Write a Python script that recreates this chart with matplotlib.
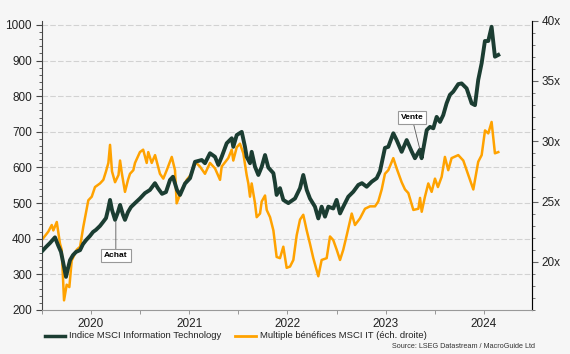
import matplotlib
matplotlib.use("Agg")
from matplotlib import pyplot as plt
from matplotlib.ticker import MultipleLocator, FixedLocator, FuncFormatter

plt.rcParams['font.family'] = ['Liberation Sans', 'DejaVu Sans']

# indice MSCI IT (fractional year, level)
idx_t = [2020.000, 2020.044, 2020.084, 2020.135, 2020.166, 2020.196, 2020.217, 2020.247, 2020.268, 2020.288,
         2020.318, 2020.349, 2020.390, 2020.420, 2020.451, 2020.491, 2020.522, 2020.552, 2020.593, 2020.624,
         2020.654, 2020.674, 2020.695, 2020.715, 2020.746, 2020.776, 2020.797, 2020.827, 2020.847, 2020.878,
         2020.908, 2020.949, 2020.999, 2021.050, 2021.101, 2021.152, 2021.182, 2021.224, 2021.264, 2021.305,
         2021.335, 2021.376, 2021.407, 2021.458, 2021.509, 2021.560, 2021.628, 2021.661, 2021.712, 2021.763,
         2021.797, 2021.831, 2021.882, 2021.933, 2021.949, 2021.984, 2022.035, 2022.068, 2022.085, 2022.119,
         2022.136, 2022.170, 2022.204, 2022.238, 2022.272, 2022.305, 2022.357, 2022.374, 2022.390, 2022.424,
         2022.458, 2022.509, 2022.577, 2022.628, 2022.661, 2022.696, 2022.729, 2022.780, 2022.814, 2022.848,
         2022.882, 2022.916, 2022.966, 2023.000, 2023.035, 2023.068, 2023.119, 2023.170, 2023.221, 2023.258,
         2023.306, 2023.357, 2023.408, 2023.442, 2023.492, 2023.526, 2023.577, 2023.611, 2023.662, 2023.713,
         2023.764, 2023.797, 2023.848, 2023.865, 2023.917, 2023.950, 2023.984, 2024.018, 2024.052, 2024.085,
         2024.119, 2024.153, 2024.187, 2024.238, 2024.272, 2024.323, 2024.374, 2024.408, 2024.441, 2024.476,
         2024.509, 2024.543, 2024.577, 2024.611, 2024.645]
idx_v = [364, 377, 388, 404, 382, 363, 335, 293, 318, 340,
         354, 363, 368, 385, 396, 408, 419, 425, 436, 447,
         458, 481, 509, 481, 453, 475, 495, 467, 453, 475,
         489, 500, 513, 528, 537, 556, 542, 526, 531, 565,
         574, 537, 523, 555, 570, 616, 621, 612, 640, 630,
         607, 630, 668, 682, 658, 691, 700, 658, 630, 612,
         644, 602, 579, 602, 635, 600, 584, 556, 523, 542,
         509, 500, 513, 542, 579, 537, 513, 490, 457, 490,
         462, 490, 485, 509, 471, 490, 518, 532, 551, 556,
         546, 560, 570, 590, 655, 658, 696, 677, 644, 677,
         645, 626, 650, 626, 705, 714, 710, 742, 728, 747,
         780, 804, 813, 834, 836, 822, 780, 775, 846, 893,
         955, 955, 995, 911, 916]

# multiple de bénéfices (fractional year, x)
pe_t = [2020.000, 2020.067, 2020.102, 2020.118, 2020.153, 2020.186, 2020.203, 2020.227, 2020.254, 2020.281,
        2020.305, 2020.356, 2020.390, 2020.423, 2020.474, 2020.509, 2020.542, 2020.593, 2020.627, 2020.654,
        2020.678, 2020.695, 2020.715, 2020.746, 2020.781, 2020.797, 2020.814, 2020.847, 2020.878, 2020.898,
        2020.932, 2020.949, 2020.999, 2021.032, 2021.068, 2021.084, 2021.119, 2021.153, 2021.203, 2021.237,
        2021.272, 2021.323, 2021.356, 2021.373, 2021.424, 2021.475, 2021.526, 2021.560, 2021.610, 2021.661,
        2021.712, 2021.763, 2021.814, 2021.831, 2021.898, 2021.933, 2021.949, 2021.984, 2022.017, 2022.051,
        2022.085, 2022.102, 2022.119, 2022.136, 2022.170, 2022.187, 2022.221, 2022.238, 2022.272, 2022.289,
        2022.323, 2022.357, 2022.390, 2022.424, 2022.458, 2022.492, 2022.526, 2022.560, 2022.594, 2022.628,
        2022.661, 2022.696, 2022.729, 2022.763, 2022.814, 2022.848, 2022.899, 2022.933, 2022.966, 2023.001,
        2023.035, 2023.068, 2023.103, 2023.154, 2023.187, 2023.238, 2023.289, 2023.340, 2023.391, 2023.424,
        2023.459, 2023.492, 2023.526, 2023.577, 2023.611, 2023.662, 2023.696, 2023.730, 2023.781, 2023.832,
        2023.849, 2023.866, 2023.899, 2023.933, 2023.967, 2024.001, 2024.031, 2024.069, 2024.102, 2024.136,
        2024.170, 2024.238, 2024.289, 2024.323, 2024.357, 2024.391, 2024.425, 2024.441, 2024.476, 2024.510,
        2024.543, 2024.577, 2024.611, 2024.645]
pe_v = [21.8, 22.5, 23.05, 22.6, 23.3, 21.5, 21.0, 16.8, 18.1, 17.9,
        20.1, 21.0, 21.25, 22.9, 25.1, 25.4, 26.2, 26.5, 26.8, 27.5,
        28.2, 29.7, 27.5, 26.6, 27.2, 28.4, 27.4, 25.8, 26.8, 27.3,
        27.6, 28.2, 29.1, 29.3, 28.2, 29.1, 28.2, 28.85, 27.3, 26.9,
        27.6, 28.7, 27.6, 24.85, 25.95, 26.8, 27.3, 28.3, 27.9, 27.3,
        28.2, 27.75, 26.8, 27.9, 28.6, 29.3, 28.4, 29.5, 29.8, 29.0,
        27.2, 26.5, 25.4, 26.5, 24.85, 23.7, 24.0, 25.0, 25.5, 24.3,
        23.7, 22.6, 20.4, 20.3, 21.25, 19.5, 19.6, 20.15, 22.2, 23.5,
        23.9, 22.6, 21.5, 20.3, 18.8, 20.15, 20.3, 22.1, 21.8, 21.0,
        20.15, 21.0, 22.2, 24.0, 23.05, 23.6, 24.4, 24.6, 24.6, 25.0,
        26.0, 27.3, 27.6, 28.6, 27.75, 26.6, 26.0, 25.7, 24.3, 24.4,
        25.3, 24.15, 25.4, 26.5, 25.8, 26.9, 26.2, 27.05, 28.7, 27.6,
        28.6, 28.85, 28.4, 27.6, 26.8, 26.0, 27.6, 28.3, 28.85, 30.9,
        30.65, 31.6, 29.0, 29.1]

years = [2020, 2021, 2022, 2023, 2024]
dark = '#1b3d32'
orange = '#ffa200'
bg = '#f6f6f6'

fig = plt.figure(figsize=(5.7, 3.54), dpi=100, facecolor=bg)
ax = fig.add_axes([0.0732, 0.1243, 0.8596, 0.8172])
ax.set_facecolor(bg)
ax2 = ax.twinx()

ax2.plot(pe_t, pe_v, color=orange, lw=1.8, zorder=2)
ax.plot(idx_t, idx_v, color=dark, lw=2.8, zorder=3)
ax.set_zorder(ax2.get_zorder() + 1)
ax.patch.set_visible(False)
ax2.patch.set_visible(True)
ax2.patch.set_facecolor(bg)

ax.set_xlim(2020.0, 2024.985)
ax.set_ylim(200, 1012)
ax2.set_ylim(16, 40)

ax.yaxis.set_major_locator(FixedLocator([200, 300, 400, 500, 600, 700, 800, 900, 1000]))
ax.yaxis.set_minor_locator(MultipleLocator(20))
ax2.yaxis.set_major_locator(FixedLocator([20, 25, 30, 35, 40]))
ax2.yaxis.set_minor_locator(MultipleLocator(1))
ax2.yaxis.set_major_formatter(FuncFormatter(lambda v, p: f"{v:.0f}x"))

ax.xaxis.set_major_locator(FixedLocator([y + 0.5 for y in years]))
ax.xaxis.set_major_formatter(FuncFormatter(lambda v, p: f"{int(v)}"))
ax.xaxis.set_minor_locator(FixedLocator([y for y in years] + [2025]))

for y in range(300, 1001, 100):
    ax2.axhline(16 + (y - 200) / (1012 - 200) * 24, color='#d2d2d2', lw=0.8, ls=(0, (5, 2)), zorder=1)

for a in (ax, ax2):
    a.spines['top'].set_visible(False)
ax.spines['left'].set_color('#444444')
ax.spines['bottom'].set_color('#999999')
ax2.spines['right'].set_color('#666666')
ax2.spines['left'].set_visible(False)
ax2.spines['bottom'].set_visible(False)

ax.tick_params(axis='y', which='major', length=4, width=0.8, color='#444444', labelsize=8.5, pad=3, labelcolor='#222222')
ax.tick_params(axis='y', which='minor', length=2, width=0.6, color='#444444')
ax2.tick_params(axis='y', which='major', length=4, width=0.8, color='#666666', labelsize=8.5, pad=3, labelcolor='#222222')
ax2.tick_params(axis='y', which='minor', length=2, width=0.6, color='#666666')
ax.tick_params(axis='x', which='both', length=3, width=0.6, color='#888888', labelsize=8.5, pad=3, labelcolor='#222222')

box = dict(boxstyle='square,pad=0.35', fc='white', ec='#999999', lw=0.8)
ax.annotate('Achat', xy=(2020.754, 448), xytext=(2020.754, 352), fontsize=6, fontweight='bold',
            ha='center', va='center', bbox=box,
            arrowprops=dict(arrowstyle='-', color='#555555', lw=0.6, shrinkA=0, shrinkB=0))
ax.annotate('Vente', xy=(2023.849, 649), xytext=(2023.767, 740), fontsize=6, fontweight='bold',
            ha='center', va='center', bbox=box,
            arrowprops=dict(arrowstyle='-', color='#555555', lw=0.6, shrinkA=0, shrinkB=0))

ly = 1 - 336 / 354
fig.add_artist(plt.Line2D([45 / 570, 65 / 570], [ly, ly], color=dark, lw=2.5, transform=fig.transFigure))
fig.text(69 / 570, ly, 'Indice MSCI Information Technology', fontsize=6.8, va='center', color='#222222')
fig.add_artist(plt.Line2D([235 / 570, 256 / 570], [ly, ly], color=orange, lw=2, transform=fig.transFigure))
fig.text(260 / 570, ly, 'Multiple bénéfices MSCI IT (éch. droite)', fontsize=6.8, va='center', color='#222222')
fig.text(535 / 570, 1 - 347 / 354, 'Source: LSEG Datastream / MacroGuide Ltd', fontsize=5.2, ha='right', va='center', color='#333333')

fig.savefig('out.png', dpi=100, facecolor=bg)
